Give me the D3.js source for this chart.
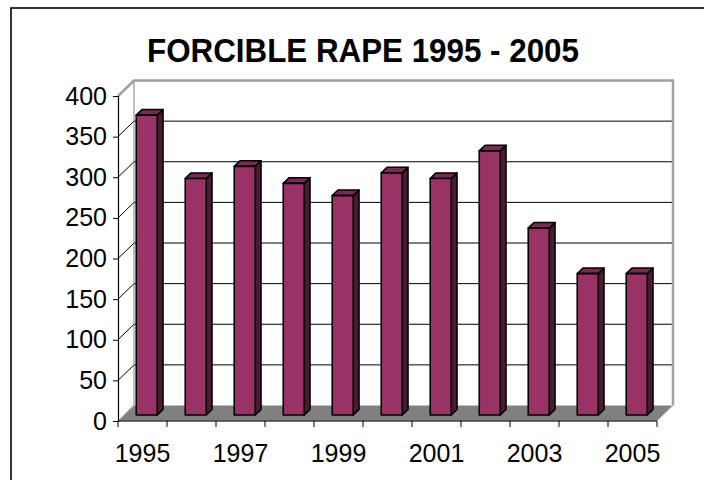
<!DOCTYPE html>
<html>
<head>
<meta charset="utf-8">
<script src="https://cdn.jsdelivr.net/npm/d3@7/dist/d3.min.js"></script>
<style>
html,body{margin:0;padding:0;background:#fff;}
svg{display:block;}
text{font-family:"Liberation Sans", Arial, sans-serif;fill:#000;}
</style>
</head>
<body>
<svg id="chart" width="704" height="480"></svg>
<script>
const title = "FORCIBLE RAPE 1995 - 2005";
const years = ["1995","1996","1997","1998","1999","2000","2001","2002","2003","2004","2005"];
const values = [369, 291, 306, 285, 270, 298, 291, 325, 230, 174, 174];
const yTicks = [0, 50, 100, 150, 200, 250, 300, 350, 400];
const xLabels = ["1995","1997","1999","2001","2003","2005"];

const svg = d3.select("#chart");
const DX = 16, DY = 15.5;
const P = (x, y, z) => [x + z * DX, y - z * DY];

const x = d3.scaleBand().domain(years).range([118, 657]);
const y = d3.scaleLinear().domain([0, 400]).range([421, 96]);

// outer border
svg.append("rect").attr("x", 11).attr("y", 8).attr("width", 900).attr("height", 900)
  .attr("fill", "none").attr("stroke", "#000").attr("stroke-width", 1.6);

// title
svg.append("text").attr("x", 363).attr("y", 62).attr("text-anchor", "middle")
  .attr("font-size", 33).attr("font-weight", "bold")
  .attr("textLength", 432).attr("lengthAdjust", "spacingAndGlyphs").text(title);

const x0 = 118, x1 = 657;
// back wall
const bw = [P(x0, y(400), 1), P(x1, y(400), 1), P(x1, y(0), 1), P(x0, y(0), 1)];
svg.append("polygon").attr("points", bw.map(p => p.join(",")).join(" ")).attr("fill", "#fff");

// back wall gridlines
yTicks.filter(t => t > 0 && t < 400).forEach(t => {
  const a = P(x0, y(t), 1), b = P(x1, y(t), 1);
  svg.append("line").attr("x1", a[0]).attr("y1", a[1]).attr("x2", b[0]).attr("y2", b[1])
    .attr("stroke", "#000").attr("stroke-width", 1);
});
// left wall diagonals
yTicks.filter(t => t < 400).forEach(t => {
  const a = P(x0, y(t), 0), b = P(x0, y(t), 1);
  svg.append("line").attr("x1", a[0]).attr("y1", a[1]).attr("x2", b[0]).attr("y2", b[1])
    .attr("stroke", "#000").attr("stroke-width", 1);
});
// back wall left edge
{
  const a = P(x0, y(400), 1), b = P(x0, y(0), 1);
  svg.append("line").attr("x1", a[0]).attr("y1", a[1]).attr("x2", b[0]).attr("y2", b[1])
    .attr("stroke", "#808080").attr("stroke-width", 1);
}
// gray top / right edges
{
  const p1 = P(x0, y(400), 0), p2 = P(x0, y(400), 1), p3 = P(x1, y(400), 1), p4 = P(x1, y(0), 1);
  svg.append("polyline").attr("points", [p1, p2, p3, p4].map(p => p.join(",")).join(" "))
    .attr("fill", "none").attr("stroke", "#a0a0a0").attr("stroke-width", 2.5);
}
// floor
{
  const f = [P(x0, y(0), 0), P(x1, y(0), 0), P(x1, y(0), 1), P(x0, y(0), 1)];
  svg.append("polygon").attr("points", f.map(p => p.join(",")).join(" "))
    .attr("fill", "#808080").attr("stroke", "#c0c0c0").attr("stroke-width", 1);
}

// bars
const barW = 21, z0 = 0.39, z1 = 0.75;
const gb = svg.append("g");
years.forEach((yr, i) => {
  const bx = x(yr) + (x.bandwidth() - barW) / 2 - 2;
  const bx2 = bx + barW;
  const yt = y(values[i]), yb = y(0);
  const front = [P(bx, yt, z0), P(bx2, yt, z0), P(bx2, yb, z0), P(bx, yb, z0)];
  const side = [P(bx2, yt, z0), P(bx2, yt, z1), P(bx2, yb, z1), P(bx2, yb, z0)];
  const top = [P(bx, yt, z0), P(bx, yt, z1), P(bx2, yt, z1), P(bx2, yt, z0)];
  const pts = a => a.map(p => p.join(",")).join(" ");
  gb.append("polygon").attr("points", pts(side)).attr("fill", "#4d1a33")
    .attr("stroke", "#000").attr("stroke-width", 1.6).attr("stroke-linejoin", "round");
  gb.append("polygon").attr("points", pts(top)).attr("fill", "#7a2952")
    .attr("stroke", "#000").attr("stroke-width", 1.6).attr("stroke-linejoin", "round");
  gb.append("polygon").attr("points", pts(front)).attr("fill", "#993366")
    .attr("stroke", "#000").attr("stroke-width", 1.6).attr("stroke-linejoin", "round");
});

// front axes
const ya = svg.append("g").attr("transform", "translate(118,0)")
  .call(d3.axisLeft(y).tickValues(yTicks).tickSize(5).tickPadding(6));
ya.select(".domain").attr("stroke", "#000").attr("stroke-width", 1.2);
ya.selectAll(".tick line").attr("stroke", "#000");
ya.selectAll(".tick text").attr("font-size", 25).attr("font-family", "Liberation Sans, Arial, sans-serif").attr("fill", "#000");

svg.append("line").attr("x1", 118).attr("x2", 657).attr("y1", 421).attr("y2", 421)
  .attr("stroke", "#000").attr("stroke-width", 1.2);
// category boundary ticks
const bounds = years.map(yr => x(yr)).concat([657]);
svg.selectAll(".xt").data(bounds).enter().append("line")
  .attr("x1", d => d).attr("x2", d => d).attr("y1", 421).attr("y2", 427)
  .attr("stroke", "#000").attr("stroke-width", 1);
svg.selectAll(".xl").data(xLabels).enter().append("text")
  .attr("x", d => x(d) + x.bandwidth() / 2).attr("y", 462)
  .attr("text-anchor", "middle").attr("font-size", 25).text(d => d);
</script>
</body>
</html>
